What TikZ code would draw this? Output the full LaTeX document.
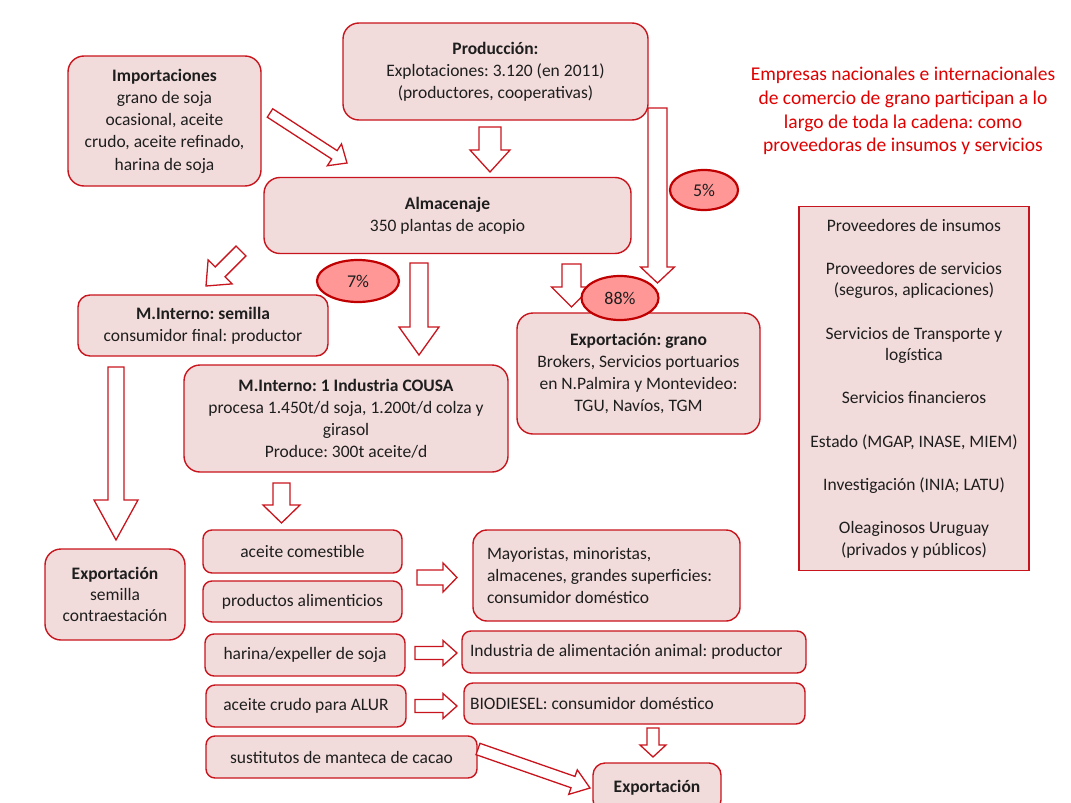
\documentclass[tikz,border=0pt]{standalone}
\usepackage{fontspec}
\setmainfont{Carlito}
\usetikzlibrary{calc,shapes.geometric}
\definecolor{boxfill}{HTML}{F2DCDB}
\definecolor{boxred}{HTML}{C8141C}
\definecolor{ellred}{HTML}{C00000}
\definecolor{ellfill}{HTML}{FF9797}
\definecolor{titlered}{HTML}{E00000}
\definecolor{txt}{HTML}{1E1E1E}
\frenchspacing
\pgfdeclareradialshading{slidebg}{\pgfpoint{0bp}{0bp}}{color(0bp)=(white); color(38bp)=(white); color(71bp)=(black!12)}
\tikzset{
  box/.style={draw=boxred, fill=boxfill, line width=1.4pt, rounded corners=16pt,
    align=center, inner sep=0pt, font=\fontsize{17.5}{22.2}\selectfont, text=txt},
  sbox/.style={box, rounded corners=9pt},
  pct/.style={ellipse, draw=ellred, fill=ellfill, line width=2.2pt, inner sep=0pt,
    font=\fontsize{18}{18}\selectfont, text=txt},
  barrowstyle/.style={draw=boxred, fill=white, line width=1.3pt, line join=miter},
}
% block arrow: from, to, shaft half width, head half width, head length
\newcommand{\barrow}[5]{%
  \draw[barrowstyle] ($(#1)!#3!90:(#2)$) -- ($(#2)!#5!(#1)!#3!-90:(#1)$)
    -- ($(#2)!#5!(#1)!#4!-90:(#1)$) -- (#2)
    -- ($(#2)!#5!(#1)!#4!90:(#1)$) -- ($(#2)!#5!(#1)!#3!90:(#1)$)
    -- ($(#1)!#3!-90:(#2)$) -- cycle;}
\begin{document}
\begin{tikzpicture}[x=1pt,y=-1pt]
\useasboundingbox (0,0) rectangle (1071,803);
\shade[shading=slidebg] (10,10) rectangle (1071,803);

% boxes
\node[box, minimum width=193pt, minimum height=130pt] (imp) at (164.5,121)
  {\textbf{Importaciones}\\grano de soja\\ocasional, aceite\\crudo, aceite refinado,\\harina de soja};
\node[box, minimum width=305pt, minimum height=97pt] (prod) at (495.5,71.5)
  {\textbf{Producción:}\\Explotaciones: 3.120 (en 2011)\\(productores, cooperativas)};
\node[box, minimum width=367pt, minimum height=76pt] (alm) at (447.5,215.5)
  {\textbf{Almacenaje}\\350 plantas de acopio};
\node[box, rounded corners=12pt, minimum width=250pt, minimum height=61pt] (mis) at (203,325.5)
  {\textbf{M.Interno: semilla}\\consumidor final: productor};
\node[box, minimum width=324pt, minimum height=107pt] (cousa) at (346,418.5)
  {\textbf{M.Interno: 1 Industria COUSA}\\procesa 1.450t/d soja, 1.200t/d colza y\\girasol\\[-1pt]Produce: 300t aceite/d};
\node[box, minimum width=243pt, minimum height=121pt] (expg) at (638.5,373.5)
  {\textbf{Exportación: grano}\\Brokers, Servicios portuarios\\en N.Palmira y Montevideo:\\TGU, Navíos, TGM};
\node[box, minimum width=140pt, minimum height=91pt] (exps) at (115,594.5)
  {\textbf{Exportación}\\[-1pt]semilla\\[-1pt]contraestación};
\node[sbox, minimum width=199pt, minimum height=43pt] (acom) at (302.5,551.5) {aceite comestible};
\node[sbox, minimum width=199pt, minimum height=41pt] (palim) at (302.5,601.5) {productos alimenticios};
\node[sbox, minimum width=200pt, minimum height=42pt] (har) at (305,655) {harina/expeller de soja};
\node[sbox, minimum width=200pt, minimum height=42pt] (acru) at (306,706) {aceite crudo para ALUR};
\node[sbox, minimum width=271pt, minimum height=42pt] (sust) at (341.5,757) {sustitutos de manteca de cacao};
\node[box, rounded corners=14pt, minimum width=267pt, minimum height=91pt, text width=239pt, inner xsep=14pt, align=flush left] (may) at (606.5,575.5)
  {Mayoristas, minoristas,\\almacenes, grandes superficies:\\consumidor doméstico};
\node[sbox, minimum width=344pt, minimum height=42pt, text width=328pt, inner xsep=8pt, align=flush left] (ind) at (634,652)
  {Industria de alimentación animal: productor};
\node[sbox, minimum width=341pt, minimum height=41pt, text width=329pt, inner xsep=6pt, align=flush left] (bio) at (634.5,703.5)
  {BIODIESEL: consumidor doméstico};
\node[box, rounded corners=12pt, minimum width=128pt, minimum height=49pt] (expf) at (657,787.5)
  {\textbf{Exportación}};
\node[box, rounded corners=0pt, minimum width=230pt, minimum height=364pt, font=\fontsize{17.5}{21.6}\selectfont] (prov) at (914,388.5)
  {Proveedores de insumos\\[21.6pt]Proveedores de servicios\\(seguros, aplicaciones)\\[21.6pt]Servicios de Transporte y\\logística\\[21.6pt]Servicios financieros\\[21.6pt]Estado (MGAP, INASE, MIEM)\\[21.6pt]Investigación (INIA; LATU)\\[21.6pt]Oleaginosos Uruguay\\(privados y públicos)};
\node[align=center, text=titlered, font=\fontsize{19.5}{23.7}\selectfont, inner sep=0pt] (title) at (903,111)
  {Empresas nacionales e internacionales\\de comercio de grano participan a lo\\largo de toda la cadena: como\\proveedoras de insumos y servicios};

% block arrows
\coordinate (a1) at (270,113); \coordinate (b1) at (347,163);
\coordinate (a2) at (490,127); \coordinate (b2) at (490,172);
\coordinate (a3) at (657.5,108); \coordinate (b3) at (657.5,283);
\coordinate (a4) at (571.5,264); \coordinate (b4) at (571.5,307);
\coordinate (a5) at (419,263); \coordinate (b5) at (419,355);
\coordinate (a6) at (241,251); \coordinate (b6) at (206,286);
\coordinate (a7) at (116,367); \coordinate (b7) at (116,540);
\coordinate (a8) at (281.5,483); \coordinate (b8) at (281.5,523);
\coordinate (a9) at (417,577.5); \coordinate (b9) at (457,577.5);
\coordinate (a10) at (415,653); \coordinate (b10) at (457,653);
\coordinate (a11) at (415,706); \coordinate (b11) at (457,706);
\coordinate (a12) at (653,728); \coordinate (b12) at (653,757);
\coordinate (a13) at (478,749); \coordinate (b13) at (590,788);
\barrow{a1}{b1}{5pt}{13pt}{15pt}
\barrow{a2}{b2}{11pt}{20pt}{22pt}
\barrow{a3}{b3}{9.5pt}{17pt}{16pt}
\barrow{a4}{b4}{9.5pt}{20pt}{20pt}
\barrow{a5}{b5}{9pt}{20pt}{28pt}
\barrow{a6}{b6}{7pt}{17pt}{20pt}
\barrow{a7}{b7}{8pt}{22pt}{40pt}
\barrow{a8}{b8}{8.5pt}{18.5pt}{18pt}
\barrow{a9}{b9}{7.5pt}{14.5pt}{14pt}
\barrow{a10}{b10}{6.5pt}{12.5pt}{14pt}
\barrow{a11}{b11}{6.5pt}{12.5pt}{14pt}
\barrow{a12}{b12}{6pt}{13pt}{12pt}
\barrow{a13}{b13}{6pt}{13pt}{18pt}

% percentages
\node[pct, minimum width=68pt, minimum height=40pt] (p5) at (704,190) {5\%};
\node[pct, minimum width=77pt, minimum height=44pt] (p88) at (620,298) {88\%};
\node[pct, minimum width=82pt, minimum height=42pt] (p7) at (358,281) {7\%};
\end{tikzpicture}
\end{document}
